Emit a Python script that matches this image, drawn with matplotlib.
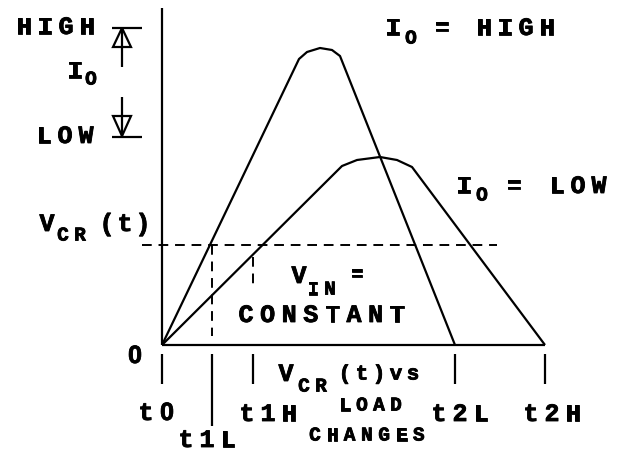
import matplotlib
matplotlib.use('Agg')
import matplotlib.pyplot as plt
import matplotlib.patheffects as pe

# time marks along the base line and their labels
t_ticks = [0, 50, 91, 293, 383]
tick_labels = ['t0', 't1L', 't1H', 't2L', 't2H']

# V_CR(t) traces, IO = HIGH and IO = LOW
high_t = [0, 137, 145, 158, 170, 178, 293]
high_v = [0, 286, 293, 297, 295, 289, 0]
low_t = [0, 180, 195, 218, 235, 250, 383]
low_v = [0, 179, 185, 188, 185, 178, 0]

vin_level = 100

FONT = 'Liberation Mono'
BIG = 18
SMALL = 14
heavy = [pe.withStroke(linewidth=0.6, foreground='black')]


def spaced(ax, x, y, s, pitch, size=BIG):
    # monospace text with wide letter pitch, like the old plotter lettering
    for i, ch in enumerate(s):
        # mono zero has a dot in it, the sketch has a plain one
        fam = 'Liberation Sans' if ch == '0' else FONT
        ax.text(x + i * pitch, y, ch, ha='center', va='center', fontsize=size,
                fontweight='bold', family=fam, path_effects=heavy)


fig = plt.figure(figsize=(6.22, 4.56), dpi=100)
ax = fig.add_axes([0, 0, 1, 1])
ax.set_xlim(-162, 460)
ax.set_ylim(-110, 346)
ax.set_axis_off()

k = dict(color='black', lw=1.6, solid_capstyle='butt')

# axes of the sketch
ax.plot([0, 0], [0, 337], **k)
ax.plot([0, t_ticks[-1]], [0, 0], **k)

# the two curves
ax.plot(high_t, high_v, **k)
ax.plot(low_t, low_v, **k)

# V_IN level and dashed drop lines
dash = dict(color='black', lw=1.4, dashes=(5, 3.5))
ax.plot([-20, 335], [vin_level, vin_level], **dash)
ax.plot([t_ticks[1], t_ticks[1]], [vin_level, 9], **dash)
ax.plot([t_ticks[2], t_ticks[2]], [88, 61], **dash)

# tick marks below the base line
for i, t in enumerate(t_ticks):
    bottom = -81 if i == 1 else -39
    ax.plot([t, t], [-9, bottom], **k)

# tick labels
label_pos = [(-16, -68), (24, -95), (85, -69), (277, -69), (369, -69)]
for (x, y), lab in zip(label_pos, tick_labels):
    spaced(ax, x, y, lab, 21)

spaced(ax, -27, -11, '0', 21)

# IO range marker on the left
ax.plot([-50, -20], [317, 317], **k)
ax.plot([-50, -20], [208, 208], **k)
ax.fill([-49, -31, -40], [298, 298, 317], facecolor='white', edgecolor='black', lw=1.6)
ax.fill([-49, -31, -40], [229, 229, 209], facecolor='white', edgecolor='black', lw=1.6)
ax.plot([-40, -40], [317, 278], **k)
ax.plot([-40, -40], [248, 208], **k)

spaced(ax, -138, 318, 'HIGH', 21)
spaced(ax, -118, 209, 'LOW', 21)
spaced(ax, -87, 274, 'I', 21)
spaced(ax, -71, 265, 'O', 21, SMALL)

# curve labels
spaced(ax, 231, 317, 'I', 21)
spaced(ax, 249, 306, 'O', 21, SMALL)
spaced(ax, 280, 317, '=', 21)
spaced(ax, 322, 317, 'HIGH', 21)

spaced(ax, 302, 159, 'I', 21)
spaced(ax, 320, 149, 'O', 21, SMALL)
spaced(ax, 352, 159, '=', 21)
spaced(ax, 395, 159, 'LOW', 21)

# V_CR (t) on the left
spaced(ax, -115, 121, 'V', 21)
spaced(ax, -99, 109, 'CR', 17, SMALL)
spaced(ax, -55, 121, '(t)', 18)

# V_IN = CONSTANT
spaced(ax, 137, 69, 'V', 21)
spaced(ax, 151, 55, 'IN', 17, SMALL)
spaced(ax, 195, 70, '=', 21, SMALL)
spaced(ax, 84, 30, 'CONSTANT', 21.6)

# caption under the axis
spaced(ax, 124, -29, 'V', 21)
spaced(ax, 142, -42, 'CR', 17, SMALL)
spaced(ax, 183, -29, '(t)vs', 17, 15)
spaced(ax, 183, -61, 'LOAD', 17, SMALL)
spaced(ax, 153, -91, 'CHANGES', 17.3, SMALL)

fig.savefig('out.png', dpi=100, facecolor='white')
